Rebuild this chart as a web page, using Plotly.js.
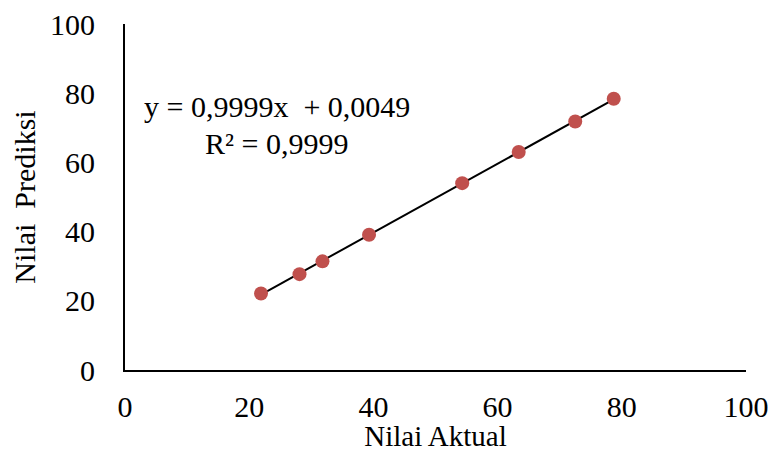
<!DOCTYPE html>
<html>
<head>
<meta charset="utf-8">
<script src="https://cdn.plot.ly/plotly-3.0.1.min.js"></script>
<style>html,body{margin:0;padding:0;background:#fff;}#chart{width:773px;height:452px;}</style>
</head>
<body>
<div id="chart"></div>
<script>
var nilaiAktual = [21.9, 28.1, 31.8, 39.3, 54.3, 63.4, 72.5, 78.7];
var nilaiPrediksi = [22.1, 27.7, 31.4, 39.1, 54.0, 63.0, 71.8, 78.4];
var tickVals = [0, 20, 40, 60, 80, 100];
var tickText = ['0', '20', '40', '60', '80', '100'];
var eqText = 'y = 0,9999x  + 0,0049';
var r2Text = 'R² = 0,9999';

// least-squares trendline through the data
var n = nilaiAktual.length, sx = 0, sy = 0, sxx = 0, sxy = 0;
for (var i = 0; i < n; i++) { sx += nilaiAktual[i]; sy += nilaiPrediksi[i]; sxx += nilaiAktual[i]*nilaiAktual[i]; sxy += nilaiAktual[i]*nilaiPrediksi[i]; }
var slope = (n*sxy - sx*sy) / (n*sxx - sx*sx);
var intercept = (sy - slope*sx) / n;
var xMin = Math.min.apply(null, nilaiAktual), xMax = Math.max.apply(null, nilaiAktual);
var trendX = [xMin, xMax];
var trendY = [slope*xMin + intercept, slope*xMax + intercept];

var font = 'Liberation Serif, Times New Roman, serif';
var fs = 30;
var data = [
  {x: trendX, y: trendY, mode: 'lines', line: {color: '#000000', width: 2}, hoverinfo: 'skip', showlegend: false},
  {x: nilaiAktual, y: nilaiPrediksi, mode: 'markers', marker: {color: '#C0504D', size: 14}, showlegend: false}
];
var layout = {
  width: 773, height: 452,
  margin: {l: 125, r: 27, t: 24, b: 82},
  paper_bgcolor: '#ffffff', plot_bgcolor: '#ffffff',
  font: {family: font, size: fs, color: '#000000'},
  showlegend: false,
  xaxis: {
    range: [0, 100], tickvals: tickVals, ticktext: tickText, showgrid: false, zeroline: false,
    showline: true, linecolor: '#000000', linewidth: 2, ticks: '', ticklabelstandoff: 9,
    title: {text: 'Nilai Aktual', font: {family: font, size: 29}, standoff: 2}, automargin: false, fixedrange: true
  },
  yaxis: {
    range: [0, 100], tickvals: tickVals, ticktext: tickText, showgrid: false, zeroline: false,
    showline: true, linecolor: '#000000', linewidth: 2, ticks: '', ticklabelstandoff: 22,
    title: {text: 'Nilai  Prediksi', font: {family: font, size: fs}, standoff: 6}, automargin: false, fixedrange: true
  },
  annotations: [
    {x: 277, y: 107, xref: 'paper', yref: 'paper', text: eqText, showarrow: false, font: {family: font, size: fs}, xanchor: 'center', yanchor: 'middle'},
    {x: 276, y: 143, xref: 'paper', yref: 'paper', text: r2Text, showarrow: false, font: {family: font, size: fs}, xanchor: 'center', yanchor: 'middle'}
  ]
};
// convert annotation pixel anchors to paper coords
var pw = 773 - 125 - 27, ph = 452 - 24 - 82;
layout.annotations.forEach(function(a){ a.x = (a.x - 125)/pw; a.y = 1 - (a.y - 24)/ph; });
Plotly.newPlot('chart', data, layout, {displayModeBar: false, staticPlot: true});
</script>
</body>
</html>
